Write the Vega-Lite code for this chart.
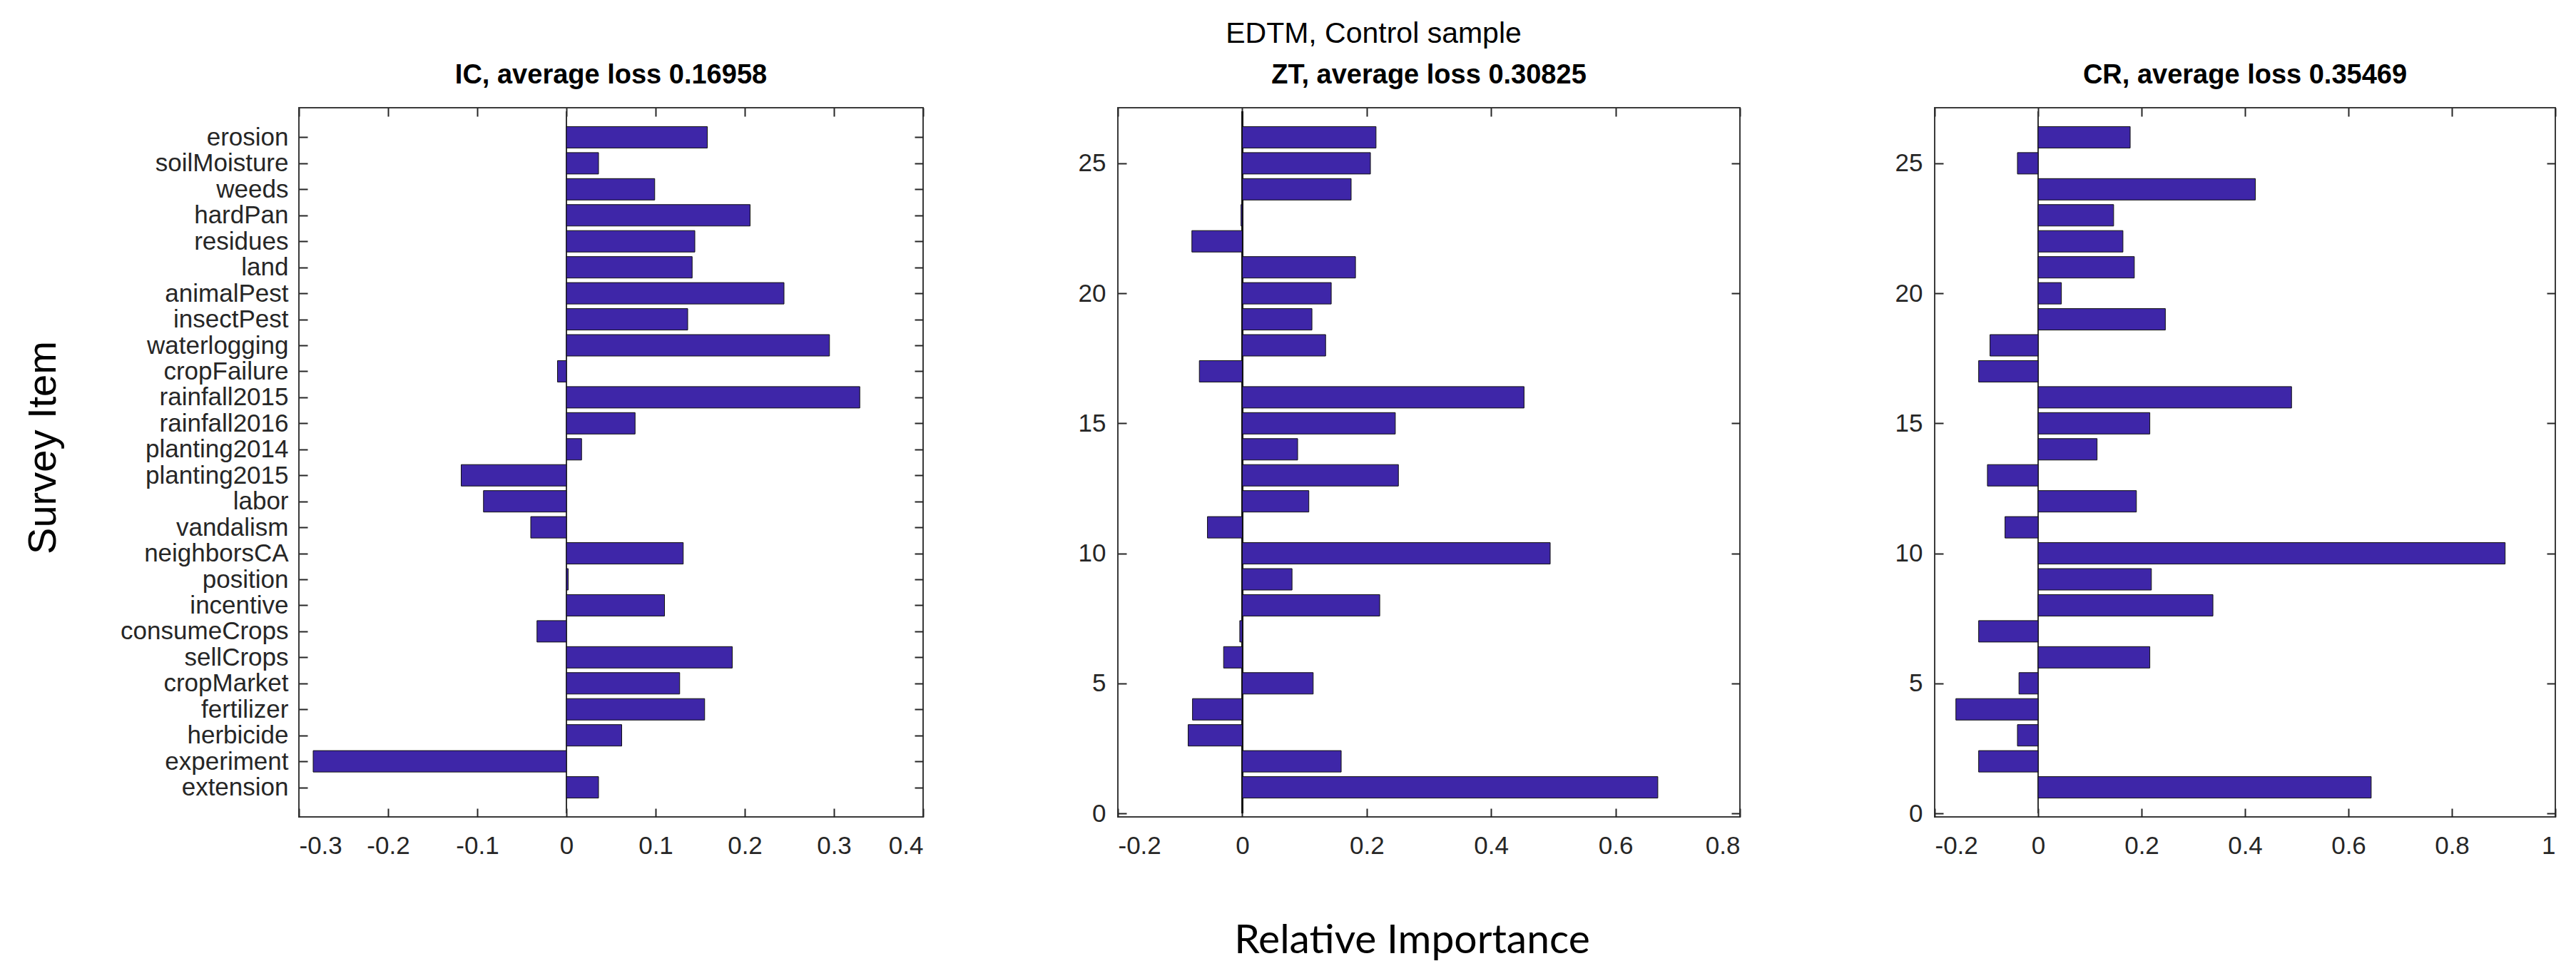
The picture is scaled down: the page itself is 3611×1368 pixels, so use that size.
{
  "$schema": "https://vega.github.io/schema/vega-lite/v6.json",
  "background": "white",
  "padding": {"left": 30, "top": 27, "right": 10, "bottom": 10},
  "title": {
    "text": "EDTM, Control sample",
    "font": "Liberation Sans",
    "fontSize": 41,
    "fontWeight": "normal",
    "color": "#000000",
    "baseline": "alphabetic",
    "anchor": "middle",
    "frame": "bounds",
    "offset": -15,
    "dx": 118
  },
  "data": {
    "values": [
      {"item": "extension", "pos": 1, "IC": 0.036, "ZT": 0.668, "CR": 0.644},
      {"item": "experiment", "pos": 2, "IC": -0.284, "ZT": 0.159, "CR": -0.115},
      {"item": "herbicide", "pos": 3, "IC": 0.062, "ZT": -0.087, "CR": -0.04},
      {"item": "fertilizer", "pos": 4, "IC": 0.155, "ZT": -0.08, "CR": -0.159},
      {"item": "cropMarket", "pos": 5, "IC": 0.127, "ZT": 0.114, "CR": -0.037},
      {"item": "sellCrops", "pos": 6, "IC": 0.186, "ZT": -0.03, "CR": 0.216},
      {"item": "consumeCrops", "pos": 7, "IC": -0.033, "ZT": -0.004, "CR": -0.115},
      {"item": "incentive", "pos": 8, "IC": 0.11, "ZT": 0.221, "CR": 0.338},
      {"item": "position", "pos": 9, "IC": 0.002, "ZT": 0.08, "CR": 0.219},
      {"item": "neighborsCA", "pos": 10, "IC": 0.131, "ZT": 0.495, "CR": 0.903},
      {"item": "vandalism", "pos": 11, "IC": -0.04, "ZT": -0.056, "CR": -0.064},
      {"item": "labor", "pos": 12, "IC": -0.093, "ZT": 0.107, "CR": 0.19},
      {"item": "planting2015", "pos": 13, "IC": -0.118, "ZT": 0.251, "CR": -0.098},
      {"item": "planting2014", "pos": 14, "IC": 0.017, "ZT": 0.089, "CR": 0.114},
      {"item": "rainfall2016", "pos": 15, "IC": 0.077, "ZT": 0.246, "CR": 0.216},
      {"item": "rainfall2015", "pos": 16, "IC": 0.329, "ZT": 0.453, "CR": 0.49},
      {"item": "cropFailure", "pos": 17, "IC": -0.01, "ZT": -0.069, "CR": -0.115},
      {"item": "waterlogging", "pos": 18, "IC": 0.295, "ZT": 0.134, "CR": -0.093},
      {"item": "insectPest", "pos": 19, "IC": 0.136, "ZT": 0.112, "CR": 0.246},
      {"item": "animalPest", "pos": 20, "IC": 0.244, "ZT": 0.143, "CR": 0.045},
      {"item": "land", "pos": 21, "IC": 0.141, "ZT": 0.182, "CR": 0.186},
      {"item": "residues", "pos": 22, "IC": 0.144, "ZT": -0.081, "CR": 0.164},
      {"item": "hardPan", "pos": 23, "IC": 0.206, "ZT": -0.002, "CR": 0.146},
      {"item": "weeds", "pos": 24, "IC": 0.099, "ZT": 0.175, "CR": 0.42},
      {"item": "soilMoisture", "pos": 25, "IC": 0.036, "ZT": 0.206, "CR": -0.04},
      {"item": "erosion", "pos": 26, "IC": 0.158, "ZT": 0.215, "CR": 0.178}
    ]
  },
  "bounds": "flush",
  "spacing": 273,
  "hconcat": [
    {
      "width": 875,
      "height": 994,
      "title": {"text": "IC, average loss 0.16958"},
      "resolve": {"axis": {"x": "independent", "y": "independent"}},
      "layer": [
        {
          "mark": {"type": "rule", "color": "#333333", "strokeWidth": 1.5},
          "encoding": {
            "x": {"datum": 0, "type": "quantitative", "scale": {"domain": [-0.3, 0.4], "nice": false, "zero": false},
                  "axis": {"orient": "top", "labels": false, "title": null, "values": [-0.3, -0.2, -0.1, 0, 0.1, 0.2, 0.3, 0.4]}},
            "y": {"datum": 0, "type": "quantitative", "scale": {"domain": [0, 27], "nice": false, "zero": false},
                  "axis": {"orient": "right", "labels": false, "title": null, "values": [1, 2, 3, 4, 5, 6, 7, 8, 9, 10, 11, 12, 13, 14, 15, 16, 17, 18, 19, 20, 21, 22, 23, 24, 25, 26]}},
            "y2": {"datum": 27}
          }
        },
        {
          "mark": {"type": "bar", "orient": "horizontal", "size": 30, "color": "#3E26A8", "stroke": "#111111", "strokeWidth": 1},
          "encoding": {
            "x": {"field": "IC", "type": "quantitative", "scale": {"domain": [-0.3, 0.4], "nice": false, "zero": false},
                  "axis": {"orient": "bottom", "title": null, "values": [-0.3, -0.2, -0.1, 0, 0.1, 0.2, 0.3, 0.4], "labelPadding": 35,
                           "labelExpr": "toString(round(datum.value * 10) / 10)"}},
            "x2": {"datum": 0},
            "y": {"field": "pos", "type": "quantitative", "scale": {"domain": [0, 27], "nice": false, "zero": false},
                  "axis": {"orient": "left", "values": [1, 2, 3, 4, 5, 6, 7, 8, 9, 10, 11, 12, 13, 14, 15, 16, 17, 18, 19, 20, 21, 22, 23, 24, 25, 26],
                           "labelPadding": 27,
                           "labelExpr": "['', 'extension', 'experiment', 'herbicide', 'fertilizer', 'cropMarket', 'sellCrops', 'consumeCrops', 'incentive', 'position', 'neighborsCA', 'vandalism', 'labor', 'planting2015', 'planting2014', 'rainfall2016', 'rainfall2015', 'cropFailure', 'waterlogging', 'insectPest', 'animalPest', 'land', 'residues', 'hardPan', 'weeds', 'soilMoisture', 'erosion'][datum.value]",
                           "title": "Survey Item", "titleFont": "Liberation Sans", "titleFontSize": 56, "titleFontWeight": "normal", "titleColor": "#000000",
                           "titleX": -342, "titleY": 476, "titleBaseline": "alphabetic"}}
          }
        }
      ]
    },
    {
      "width": 872,
      "height": 994,
      "title": {"text": "ZT, average loss 0.30825"},
      "resolve": {"axis": {"x": "independent", "y": "independent"}},
      "layer": [
        {
          "mark": {"type": "rule", "color": "#111111", "strokeWidth": 1.5},
          "encoding": {
            "x": {"datum": 0, "type": "quantitative", "scale": {"domain": [-0.2, 0.8], "nice": false, "zero": false},
                  "axis": {"orient": "top", "labels": false, "title": null, "values": [-0.2, 0, 0.2, 0.4, 0.6, 0.8]}},
            "y": {"datum": 0, "type": "quantitative", "scale": {"domain": [0, 27], "nice": false, "zero": false},
                  "axis": {"orient": "right", "labels": false, "title": null, "values": [0, 5, 10, 15, 20, 25]}},
            "y2": {"datum": 27}
          }
        },
        {
          "mark": {"type": "bar", "orient": "horizontal", "size": 30, "color": "#3E26A8", "stroke": "#111111", "strokeWidth": 1},
          "encoding": {
            "x": {"field": "ZT", "type": "quantitative", "scale": {"domain": [-0.2, 0.8], "nice": false, "zero": false},
                  "axis": {"orient": "bottom", "values": [-0.2, 0, 0.2, 0.4, 0.6, 0.8], "labelPadding": 35,
                           "labelExpr": "toString(round(datum.value * 10) / 10)",
                           "title": "Relative Importance", "titleFont": "Lato", "titleFontSize": 57, "titleFontWeight": "normal", "titleColor": "#000000",
                           "titleX": 412, "titleY": 190, "titleBaseline": "alphabetic"}},
            "x2": {"datum": 0},
            "y": {"field": "pos", "type": "quantitative", "scale": {"domain": [0, 27], "nice": false, "zero": false},
                  "axis": {"orient": "left", "values": [0, 5, 10, 15, 20, 25], "labelPadding": 29, "title": null}}
          }
        }
      ]
    },
    {
      "width": 870,
      "height": 994,
      "title": {"text": "CR, average loss 0.35469"},
      "resolve": {"axis": {"x": "independent", "y": "independent"}},
      "layer": [
        {
          "mark": {"type": "rule", "color": "#333333", "strokeWidth": 1.5},
          "encoding": {
            "x": {"datum": 0, "type": "quantitative", "scale": {"domain": [-0.2, 1], "nice": false, "zero": false},
                  "axis": {"orient": "top", "labels": false, "title": null, "values": [-0.2, 0, 0.2, 0.4, 0.6, 0.8, 1]}},
            "y": {"datum": 0, "type": "quantitative", "scale": {"domain": [0, 27], "nice": false, "zero": false},
                  "axis": {"orient": "right", "labels": false, "title": null, "values": [0, 5, 10, 15, 20, 25]}},
            "y2": {"datum": 27}
          }
        },
        {
          "mark": {"type": "bar", "orient": "horizontal", "size": 30, "color": "#3E26A8", "stroke": "#111111", "strokeWidth": 1},
          "encoding": {
            "x": {"field": "CR", "type": "quantitative", "scale": {"domain": [-0.2, 1], "nice": false, "zero": false},
                  "axis": {"orient": "bottom", "title": null, "values": [-0.2, 0, 0.2, 0.4, 0.6, 0.8, 1], "labelPadding": 35,
                           "labelExpr": "toString(round(datum.value * 10) / 10)"}},
            "x2": {"datum": 0},
            "y": {"field": "pos", "type": "quantitative", "scale": {"domain": [0, 27], "nice": false, "zero": false},
                  "axis": {"orient": "left", "values": [0, 5, 10, 15, 20, 25], "labelPadding": 29, "title": null}}
          }
        }
      ]
    }
  ],
  "config": {
    "font": "Liberation Sans",
    "view": {"stroke": "#3a3a3a", "strokeWidth": 2},
    "title": {"font": "Liberation Sans", "fontSize": 38, "fontWeight": "bold", "color": "#000000", "baseline": "alphabetic", "offset": 25, "frame": "group", "anchor": "middle"},
    "axis": {
      "domain": false,
      "grid": false,
      "tickSize": -12,
      "tickWidth": 2,
      "tickColor": "#262626",
      "labelFont": "Liberation Sans",
      "labelFontSize": 35,
      "labelColor": "#262626",
      "labelLimit": 0
    }
  }
}
